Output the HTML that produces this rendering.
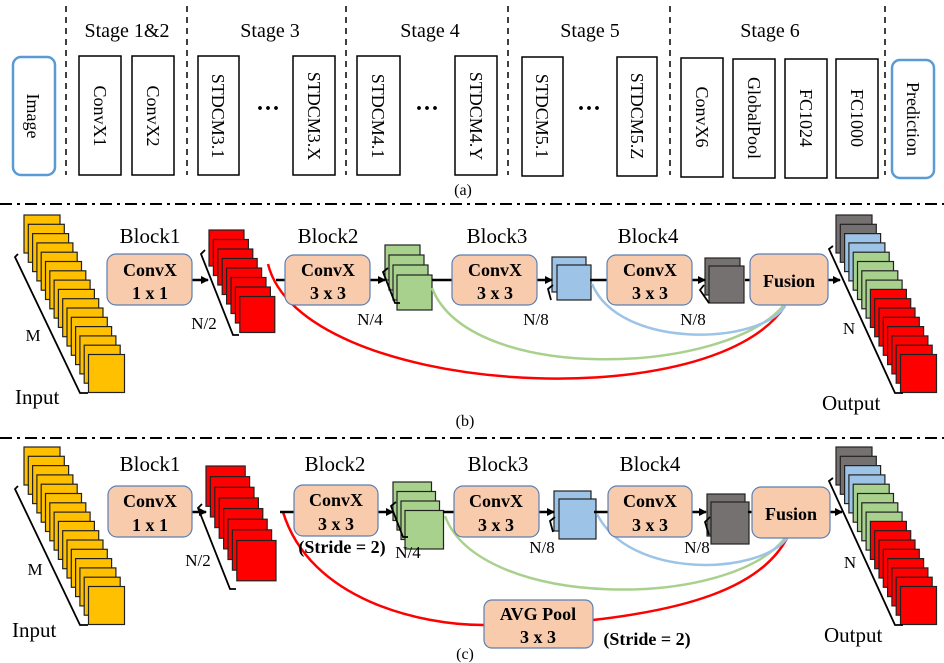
<!DOCTYPE html>
<html><head><meta charset="utf-8"><style>
html,body{margin:0;padding:0;background:#fff;}
svg{display:block;font-family:"Liberation Serif",serif;}
</style></head><body>
<svg id="s" width="944" height="663" viewBox="0 0 944 663" xmlns="http://www.w3.org/2000/svg">
<defs><marker id="ar" markerWidth="8" markerHeight="8" refX="7" refY="4" orient="auto" markerUnits="userSpaceOnUse"><path d="M0,0 L8,4 L0,8 z" fill="#000"/></marker></defs>
<g stroke="#000" stroke-width="1.5" stroke-dasharray="6,5">
<line x1="66" y1="6" x2="66" y2="175"/><line x1="187" y1="6" x2="187" y2="175"/><line x1="346" y1="6" x2="346" y2="175"/><line x1="508" y1="6" x2="508" y2="175"/><line x1="670" y1="6" x2="670" y2="175"/><line x1="885" y1="6" x2="885" y2="175"/>
</g>
<g font-size="20" text-anchor="middle">
<text x="127" y="37">Stage 1&amp;2</text><text x="270" y="37">Stage 3</text><text x="430" y="37">Stage 4</text><text x="590" y="37">Stage 5</text><text x="770" y="37">Stage 6</text>
</g>
<rect x="13" y="57" width="42" height="118" rx="8" fill="#fff" stroke="#5b9bd5" stroke-width="2.5"/>
<rect x="892" y="60" width="42" height="118" rx="8" fill="#fff" stroke="#5b9bd5" stroke-width="2.5"/>
<g fill="#fff" stroke="#000" stroke-width="1.5">
<rect x="79" y="56" width="42" height="119"/><rect x="132" y="56" width="42" height="119"/>
<rect x="198" y="56" width="41" height="119"/><rect x="293" y="56" width="42" height="119"/>
<rect x="357" y="56" width="43" height="119"/><rect x="455" y="56" width="42" height="119"/>
<rect x="522" y="57" width="41" height="119"/><rect x="617" y="57" width="40" height="119"/>
<rect x="681" y="58" width="42" height="119"/><rect x="733" y="59" width="42" height="119"/><rect x="785" y="59" width="42" height="119"/><rect x="836" y="59" width="42" height="119"/>
</g>
<g font-size="18" text-anchor="middle">
<text transform="translate(27,116) rotate(90)">Image</text>
<text transform="translate(94,116) rotate(90)">ConvX1</text>
<text transform="translate(147,116) rotate(90)">ConvX2</text>
<text transform="translate(212,116) rotate(90)">STDCM3.1</text>
<text transform="translate(308,116) rotate(90)">STDCM3.X</text>
<text transform="translate(372,116) rotate(90)">STDCM4.1</text>
<text transform="translate(470,116) rotate(90)">STDCM4.Y</text>
<text transform="translate(536,116) rotate(90)">STDCM5.1</text>
<text transform="translate(631,116) rotate(90)">STDCM5.Z</text>
<text transform="translate(696,117) rotate(90)">ConvX6</text>
<text transform="translate(748,118) rotate(90)">GlobalPool</text>
<text transform="translate(800,118) rotate(90)">FC1024</text>
<text transform="translate(851,118) rotate(90)">FC1000</text>
<text transform="translate(907,119) rotate(90)">Prediction</text>
</g>
<g font-size="24" font-weight="bold" text-anchor="middle"><text x="268" y="116">···</text><text x="427" y="116">···</text><text x="589" y="116">···</text></g>
<text x="463" y="195" font-size="16" text-anchor="middle">(a)</text>
<g stroke="#000" stroke-width="2" stroke-dasharray="12,5,3,5"><line x1="0" y1="204" x2="944" y2="204"/><line x1="0" y1="438" x2="944" y2="438"/></g>

<g id="gb"></g>
<g fill="none" stroke-width="2.5">
<path d="M268,264 C300,395 710,420 785,306" stroke="#ff0000"/>
<path d="M432,288 C470,385 725,375 783,306" stroke="#a9d18e"/>
<path d="M592,284 C620,350 760,345 785,306" stroke="#9dc3e6"/>
</g>
<g stroke="#000" stroke-width="2.5">
<line x1="125" y1="280" x2="107" y2="280"/>
<line x1="192" y1="280" x2="208" y2="280" marker-end="url(#ar)"/>
<line x1="276" y1="280" x2="285" y2="280"/>
<line x1="370" y1="280" x2="385" y2="280" marker-end="url(#ar)"/>
<line x1="432" y1="280" x2="452" y2="280"/>
<line x1="537" y1="280" x2="552" y2="280" marker-end="url(#ar)"/>
<line x1="590" y1="280" x2="607" y2="280"/>
<line x1="692" y1="280" x2="705" y2="280" marker-end="url(#ar)"/>
<line x1="745" y1="280" x2="750" y2="280"/>
<line x1="828" y1="280" x2="840" y2="280" marker-end="url(#ar)"/>
</g>
<g fill="#f8cbad" stroke="#5a7fb5" stroke-width="1.2">
<rect x="107" y="254" width="85" height="51" rx="9"/><rect x="285" y="255" width="85" height="50" rx="9"/><rect x="452" y="255" width="85" height="50" rx="9"/><rect x="607" y="255" width="85" height="50" rx="9"/><rect x="750" y="254" width="78" height="51" rx="9"/>
</g>
<g font-size="21" text-anchor="middle">
<text x="150" y="243">Block1</text><text x="328" y="243">Block2</text><text x="497" y="243">Block3</text><text x="648" y="243">Block4</text>
</g>
<g font-size="18" font-weight="bold" text-anchor="middle">
<text x="150" y="276">ConvX</text><text x="150" y="299">1 x 1</text>
<text x="328" y="276">ConvX</text><text x="328" y="299">3 x 3</text>
<text x="495" y="276">ConvX</text><text x="495" y="299">3 x 3</text>
<text x="650" y="276">ConvX</text><text x="650" y="299">3 x 3</text>
<text x="789" y="287">Fusion</text>
</g>
<g font-size="17" text-anchor="middle">
<text x="204" y="329">N/2</text><text x="370" y="325">N/4</text><text x="536" y="325">N/8</text><text x="693" y="325">N/8</text>
<text x="33" y="341">M</text><text x="849" y="334">N</text>
</g>
<text x="15" y="404" font-size="21">Input</text><text x="822" y="410" font-size="21">Output</text>
<text x="465" y="426" font-size="16" text-anchor="middle">(b)</text>

<g id="gc"></g>
<g fill="none" stroke-width="2.5">
<path d="M283,512 C310,600 420,625 484,625" stroke="#ff0000"/>
<path d="M593,620 C680,610 760,590 787,538" stroke="#ff0000"/>
<path d="M445,516 C480,610 730,610 785,538" stroke="#a9d18e"/>
<path d="M597,514 C630,580 760,575 787,538" stroke="#9dc3e6"/>
</g>
<g stroke="#000" stroke-width="2.5">
<line x1="192" y1="512" x2="206" y2="512" marker-end="url(#ar)"/>
<line x1="280" y1="512" x2="294" y2="512"/>
<line x1="378" y1="512" x2="393" y2="512" marker-end="url(#ar)"/>
<line x1="443" y1="512" x2="454" y2="512"/>
<line x1="539" y1="512" x2="554" y2="512" marker-end="url(#ar)"/>
<line x1="594" y1="512" x2="608" y2="512"/>
<line x1="692" y1="512" x2="706" y2="512" marker-end="url(#ar)"/>
<line x1="748" y1="512" x2="752" y2="512"/>
<line x1="830" y1="512" x2="842" y2="512" marker-end="url(#ar)"/>
</g>
<g fill="#f8cbad" stroke="#5a7fb5" stroke-width="1.2">
<rect x="108" y="486" width="84" height="51" rx="9"/><rect x="294" y="485" width="84" height="51" rx="9"/><rect x="454" y="486" width="85" height="51" rx="9"/><rect x="608" y="486" width="84" height="51" rx="9"/><rect x="752" y="487" width="78" height="51" rx="9"/>
<rect x="484" y="600" width="109" height="48" rx="8"/>
</g>
<g font-size="21" text-anchor="middle">
<text x="150" y="471">Block1</text><text x="335" y="471">Block2</text><text x="498" y="471">Block3</text><text x="650" y="471">Block4</text>
</g>
<g font-size="18" font-weight="bold" text-anchor="middle">
<text x="150" y="507">ConvX</text><text x="150" y="531">1 x 1</text>
<text x="336" y="506">ConvX</text><text x="336" y="530">3 x 3</text>
<text x="496" y="507">ConvX</text><text x="496" y="531">3 x 3</text>
<text x="650" y="507">ConvX</text><text x="650" y="531">3 x 3</text>
<text x="791" y="520">Fusion</text>
<text x="538" y="620">AVG Pool</text><text x="538" y="643">3 x 3</text>
<text x="342" y="553">(Stride = 2)</text><text x="647" y="645">(Stride = 2)</text>
</g>
<g font-size="17" text-anchor="middle">
<text x="198" y="566">N/2</text><text x="408" y="558">N/4</text><text x="542" y="553">N/8</text><text x="697" y="553">N/8</text>
<text x="35" y="575">M</text><text x="850" y="568">N</text>
</g>
<text x="12" y="637" font-size="21">Input</text><text x="824" y="642" font-size="21">Output</text>
<text x="465" y="659" font-size="16" text-anchor="middle">(c)</text>
</svg>
<script>
var NS="http://www.w3.org/2000/svg";
function r(g,x,y,w,h,f){var e=document.createElementNS(NS,"rect");e.setAttribute("x",x);e.setAttribute("y",y);e.setAttribute("width",w);e.setAttribute("height",h);e.setAttribute("fill",f);e.setAttribute("stroke","#222");e.setAttribute("stroke-width","1.2");g.appendChild(e);}
function l(g,pts){var e=document.createElementNS(NS,"polyline");e.setAttribute("points",pts);e.setAttribute("fill","none");e.setAttribute("stroke","#000");e.setAttribute("stroke-width","1.8");g.appendChild(e);}
function stack(g,x0,y0,n,dx,dy,w,h,cols){for(var i=0;i<n;i++)r(g,x0+i*dx,y0+i*dy,w,h,cols[i]);}
function arr(c,n){var a=[];for(var i=0;i<n;i++)a.push(c);return a;}
var Y="#ffc000",R="#ff0000",G="#a9d18e",B="#9dc3e6",K="#767171";
var out=[].concat(arr(K,2),arr(B,2),arr(G,4),arr(R,8));
function part(id,oy,big){var g=document.getElementById(id);
 l(g,"18,"+(254+oy)+" 15,"+(257+oy)+" 80,"+(393+oy)+" 88,"+(393+oy));
 stack(g,24,215+oy,16,4.3,9.3,36,38,arr(Y,16));
 var s=big?1.12:1;
 stack(g,big?206:209,(big?462:230)+oy-(big?228:0),8,4.4,9.5*s,35*s,36*s,arr(R,8));
 stack(g,big?393:385,(big?478-228:245)+oy,4,4,big?9.5:10,35*(big?1.1:1),35*(big?1.1:1),arr(G,4));
 stack(g,big?554:552,(big?487-228:257)+oy,2,5,8,big?37:34,big?40:35,arr(B,2));
 stack(g,big?707:705,(big?490-228:258)+oy,2,4,8,big?38:35,big?42:37,arr(K,2));
 stack(g,836,215+oy,16,4.3,9.3,36,38,out);
 l(g,"833,"+(246+oy)+" 829,"+(249+oy)+" 895,"+(393+oy)+" 903,"+(393+oy));
 var p=big?[206,262]:[209,240];
 l(g,(p[0]-4)+","+(p[1]+oy+10)+" "+(p[0]-8)+","+(p[1]+oy+14)+" "+(p[0]+24)+","+(p[1]+oy+95)+" "+(p[0]+30)+","+(p[1]+oy+95));
 var gx=big?393:385, gy=big?250:248;
 l(g,(gx+3)+","+(gy+oy+20)+" "+(gx-2)+","+(gy+oy+24)+" "+(gx+10)+","+(gy+oy+55)+" "+(gx+15)+","+(gy+oy+55));
 l(g,(big?555:553)+","+(285+oy)+" "+(big?550:548)+","+(289+oy)+" "+(big?553:551)+","+(300+oy));
 l(g,(big?710:704)+","+(285+oy)+" "+(big?705:700)+","+(290+oy)+" "+(big?709:709)+","+(303+oy));
}
part("gb",0,false);part("gc",232,true);
</script>
</body></html>
